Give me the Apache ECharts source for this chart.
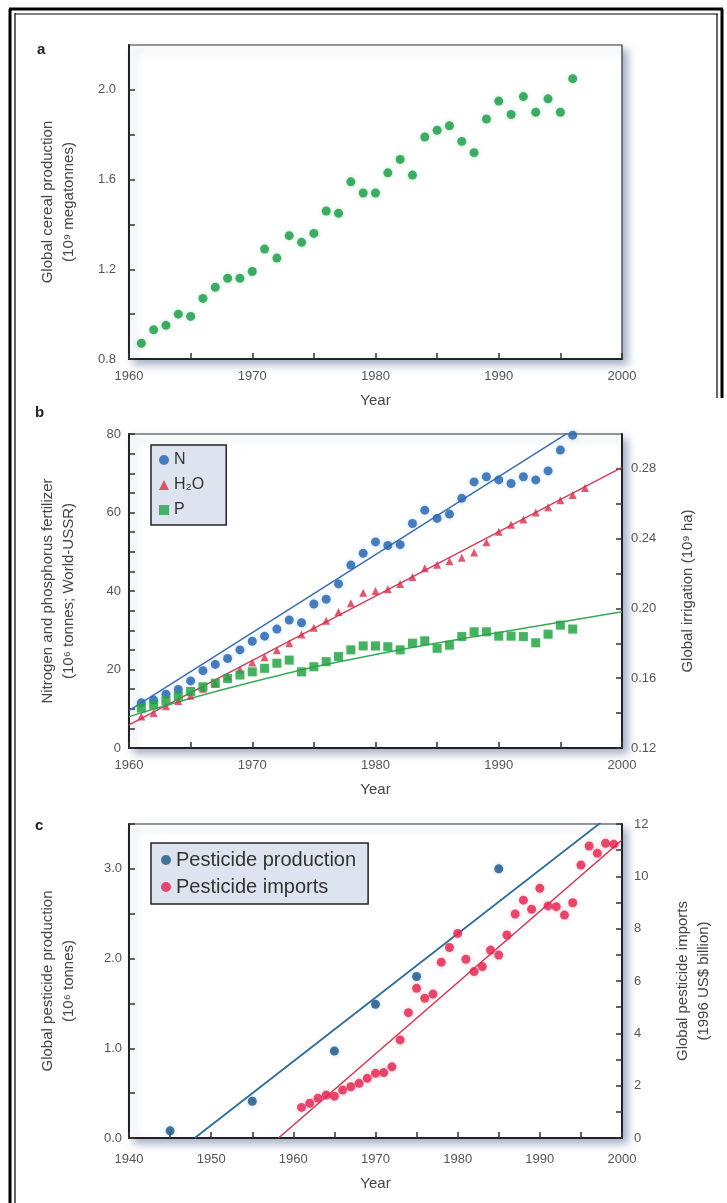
<!DOCTYPE html>
<html>
<head>
<meta charset="utf-8">
<script src="https://cdn.jsdelivr.net/npm/echarts@6/dist/echarts.min.js"></script>
<style>
  html, body { margin: 0; padding: 0; background: #fff; }
  #main { width: 727px; height: 1203px; }
</style>
</head>
<body>
<div id="main"></div>
<script>
// panel a - cereal
var yearsA = [1961,1962,1963,1964,1965,1966,1967,1968,1969,1970,1971,1972,1973,1974,1975,1976,1977,1978,1979,1980,
              1981,1982,1983,1984,1985,1986,1987,1988,1989,1990,1991,1992,1993,1994,1995,1996];
var cereal = [0.87,0.93,0.95,1.00,0.99,1.07,1.12,1.16,1.16,1.19,1.29,1.25,1.35,1.32,1.36,1.46,1.45,1.59,1.54,1.54,
              1.63,1.69,1.62,1.79,1.82,1.84,1.77,1.72,1.87,1.95,1.89,1.97,1.90,1.96,1.90,2.05];

// panel b - fertilizer + irrigation
var yearsB = [1961,1962,1963,1964,1965,1966,1967,1968,1969,1970,1971,1972,1973,1974,1975,1976,1977,1978,1979,1980,
              1981,1982,1983,1984,1985,1986,1987,1988,1989,1990,1991,1992,1993,1994,1995,1996];
var nitrogen = [11.5,12.2,13.7,14.9,17.1,19.7,21.3,22.8,25.0,27.2,28.5,30.3,32.6,31.9,36.7,37.9,41.8,46.6,49.6,52.5,
                51.6,51.8,57.2,60.6,58.5,59.6,63.6,67.8,69.1,68.3,67.4,69.1,68.3,70.6,75.9,79.7];
var phosphorus = [10.2,11.0,12.0,13.2,14.4,15.6,16.5,17.7,18.6,19.4,20.3,21.6,22.4,19.4,20.7,22.0,23.3,25.0,26.0,26.0,
                  25.8,25.0,26.7,27.3,25.4,26.2,28.4,29.6,29.6,28.5,28.5,28.4,26.8,29.0,31.3,30.3];
var yearsH2O = [1961,1962,1963,1964,1965,1966,1967,1968,1969,1970,1971,1972,1973,1974,1975,1976,1977,1978,1979,1980,
                1981,1982,1983,1984,1985,1986,1987,1988,1989,1990,1991,1992,1993,1994,1995,1996,1997];
var irrigation = [0.138,0.140,0.144,0.147,0.150,0.154,0.157,0.161,0.165,0.169,0.172,0.176,0.180,0.185,0.189,0.193,0.198,0.203,0.209,0.210,
                  0.211,0.214,0.218,0.223,0.225,0.227,0.229,0.232,0.238,0.244,0.248,0.251,0.255,0.258,0.262,0.265,0.269];
var nTrend = [[1960, 9.5], [2000, 89]];
var h2oTrend = [[1960, 0.1333], [2000, 0.2809]];
var pTrend = [[1960, 8.0], [1970, 16.8], [1980, 23.8], [1990, 29.4], [2000, 34.7]];

// panel c - pesticides
var yearsProd = [1945,1955,1965,1970,1975,1985];
var production = [0.08,0.41,0.97,1.49,1.80,3.00];
var yearsImp = [1961,1962,1963,1964,1965,1966,1967,1968,1969,1970,1971,1972,1973,1974,1975,1976,1977,1978,1979,1980,
                1981,1982,1983,1984,1985,1986,1987,1988,1989,1990,1991,1992,1993,1994,1995,1996,1997,1998,1999];
var imports = [1.17,1.33,1.52,1.64,1.60,1.83,1.96,2.09,2.28,2.47,2.50,2.72,3.75,4.79,5.72,5.34,5.50,6.72,7.28,7.82,
               6.83,6.36,6.55,7.18,6.99,7.76,8.56,9.09,8.74,9.54,8.87,8.84,8.52,8.99,10.43,11.16,10.88,11.26,11.23];
var prodTrend = [[1948, 0], [2000, 3.70]];
var impTrend = [[1958.2, 0], [2000, 11.39]];

function zip(xs, ys) {
  return xs.map(function (x, i) { return [x, ys[i]]; });
}

var FONT = 'Liberation Sans';
var LABEL = { color: '#555', fontSize: 13, fontFamily: FONT };
var NAME = { color: '#444', fontSize: 15, fontFamily: FONT, lineHeight: 21 };

function gridBox(top) {
  return {
    left: 129, right: 105, top: top, height: 314,
    show: true, backgroundColor: '#fff',
    borderColor: '#333', borderWidth: 1.2,
    shadowColor: 'rgba(90,110,150,0.55)', shadowBlur: 8,
    shadowOffsetX: 5, shadowOffsetY: 5
  };
}

function xYear(grid, min, labelMargin, nameGap) {
  return {
    type: 'value', gridIndex: grid, min: min, max: 2000, interval: 5,
    name: 'Year', nameLocation: 'middle', nameGap: nameGap, nameTextStyle: NAME,
    nameMoveOverlap: false,
    axisLine: { lineStyle: { color: '#222', width: 2 } },
    axisTick: { inside: true, length: 6, lineStyle: { color: '#333', width: 1.5 } },
    axisLabel: Object.assign({ margin: labelMargin, showMinLabel: true, showMaxLabel: true,
      formatter: function (v) { return v % 10 === 0 ? String(v) : ''; } }, LABEL),
    splitLine: { show: false }
  };
}

function yAxis(opt) {
  return Object.assign({
    type: 'value', nameLocation: 'middle', nameTextStyle: NAME, nameRotate: 90,
    nameMoveOverlap: false,
    axisLine: { show: true, lineStyle: { color: '#222', width: 2 } },
    axisTick: { show: true, inside: true, length: 6, lineStyle: { color: '#333', width: 1.5 } },
    splitLine: { show: false }
  }, opt);
}

var chart = echarts.init(document.getElementById('main'), null, { renderer: 'canvas' });

var option = {
  animation: false,
  backgroundColor: '#fff',
  textStyle: { fontFamily: FONT },
  grid: [gridBox(45), gridBox(434), gridBox(824)],
  xAxis: [
    xYear(0, 1960, 11, 31),
    xYear(1, 1960, 11, 31),
    xYear(2, 1940, 15, 35)
  ],
  yAxis: [
    yAxis({
      gridIndex: 0, min: 0.8, max: 2.2, interval: 0.2,
      name: 'Global cereal production\n(10⁹ megatonnes)', nameGap: 50,
      axisLabel: Object.assign({ margin: 13, showMaxLabel: false,
        formatter: function (v) { return Math.round(v * 10) % 4 === 0 ? v.toFixed(1) : ''; } }, LABEL)
    }),
    yAxis({
      gridIndex: 1, min: 0, max: 80, interval: 5,
      name: 'Nitrogen and phosphorus fertilizer\n(10⁶ tonnes; World-USSR)', nameGap: 50,
      axisLabel: Object.assign({ margin: 8,
        formatter: function (v) { return v % 20 === 0 ? String(v) : ''; } }, LABEL)
    }),
    yAxis({
      gridIndex: 1, position: 'right', min: 0.12, max: 0.30, interval: 0.02,
      name: 'Global irrigation (10⁹ ha)', nameGap: 55,
      axisLabel: Object.assign({ margin: 9, showMaxLabel: false,
        formatter: function (v) { return Math.round(v * 100) % 4 === 0 ? v.toFixed(2) : ''; } }, LABEL)
    }),
    yAxis({
      gridIndex: 2, min: 0, max: 3.5, interval: 0.5,
      name: 'Global pesticide production\n(10⁶ tonnes)', nameGap: 50,
      axisLabel: Object.assign({ margin: 7,
        formatter: function (v) { return Math.round(v * 10) % 10 === 0 ? v.toFixed(1) : ''; } }, LABEL)
    }),
    yAxis({
      gridIndex: 2, position: 'right', min: 0, max: 12, interval: 1,
      name: 'Global pesticide imports\n(1996 US$ billion)', nameGap: 50,
      axisLabel: Object.assign({ margin: 12,
        formatter: function (v) { return v % 2 === 0 ? String(v) : ''; } }, LABEL)
    })
  ],
  legend: [
    {
      data: ['N', 'H₂O', 'P'], orient: 'vertical', left: 151, top: 445,
      backgroundColor: '#dde4ef', borderColor: '#222', borderWidth: 1.5,
      padding: [7, 22, 7, 8], itemWidth: 10, itemHeight: 10, itemGap: 9,
      selectedMode: false,
      textStyle: { color: '#333', fontSize: 16, fontFamily: FONT }
    },
    {
      data: ['Pesticide production', 'Pesticide imports'], orient: 'vertical', left: 151, top: 843,
      backgroundColor: '#dde4ef', borderColor: '#222', borderWidth: 1.5,
      padding: [7, 12, 7, 10], itemWidth: 10, itemHeight: 10, itemGap: 7,
      selectedMode: false,
      textStyle: { color: '#333', fontSize: 20, fontFamily: FONT }
    }
  ],
  series: [
    {
      name: 'cereal', type: 'scatter', xAxisIndex: 0, yAxisIndex: 0,
      data: zip(yearsA, cereal), symbolSize: 9,
      itemStyle: { color: '#1c9946', shadowColor: 'rgba(60,200,110,0.5)', shadowBlur: 4 }
    },
    // trend lines panel b
    {
      name: 'N fit', type: 'line', xAxisIndex: 1, yAxisIndex: 1, data: nTrend,
      showSymbol: false, symbol: 'none', lineStyle: { color: '#3b6eb0', width: 1.5 }, z: 1
    },
    {
      name: 'H2O fit', type: 'line', xAxisIndex: 1, yAxisIndex: 2, data: h2oTrend,
      showSymbol: false, symbol: 'none', lineStyle: { color: '#d0405a', width: 1.5 }, z: 1
    },
    {
      name: 'P fit', type: 'line', xAxisIndex: 1, yAxisIndex: 1, data: pTrend, smooth: true,
      showSymbol: false, symbol: 'none', lineStyle: { color: '#3aa858', width: 1.5 }, z: 1
    },
    {
      name: 'N', type: 'scatter', xAxisIndex: 1, yAxisIndex: 1, symbol: 'circle',
      data: zip(yearsB, nitrogen), symbolSize: 9,
      itemStyle: { color: '#2660ab', shadowColor: 'rgba(80,170,240,0.5)', shadowBlur: 4 }
    },
    {
      name: 'H₂O', type: 'scatter', xAxisIndex: 1, yAxisIndex: 2, symbol: 'triangle',
      data: zip(yearsH2O, irrigation), symbolSize: 8,
      itemStyle: { color: '#d2314f' }
    },
    {
      name: 'P', type: 'scatter', xAxisIndex: 1, yAxisIndex: 1, symbol: 'rect',
      data: zip(yearsB, phosphorus), symbolSize: 9,
      itemStyle: { color: '#25a044', shadowColor: 'rgba(60,200,100,0.4)', shadowBlur: 3 }
    },
    // panel c
    {
      name: 'prod fit', type: 'line', xAxisIndex: 2, yAxisIndex: 3, data: prodTrend,
      showSymbol: false, symbol: 'none', lineStyle: { color: '#2f6b96', width: 1.8 }, z: 1
    },
    {
      name: 'imp fit', type: 'line', xAxisIndex: 2, yAxisIndex: 4, data: impTrend,
      showSymbol: false, symbol: 'none', lineStyle: { color: '#c9374f', width: 1.5 }, z: 1
    },
    {
      name: 'Pesticide production', type: 'scatter', xAxisIndex: 2, yAxisIndex: 3, symbol: 'circle',
      data: zip(yearsProd, production), symbolSize: 9,
      itemStyle: { color: '#1e5280', shadowColor: 'rgba(60,160,230,0.5)', shadowBlur: 4 }
    },
    {
      name: 'Pesticide imports', type: 'scatter', xAxisIndex: 2, yAxisIndex: 4, symbol: 'circle',
      data: zip(yearsImp, imports), symbolSize: 9,
      itemStyle: { color: '#e0234f', shadowColor: 'rgba(255,80,120,0.45)', shadowBlur: 4 }
    }
  ],
  graphic: [
    // outer frame
    { type: 'line', shape: { x1: 10, y1: 9, x2: 10, y2: 1203 }, style: { stroke: '#000', lineWidth: 3 } },
    { type: 'line', shape: { x1: 15, y1: 13, x2: 15, y2: 1203 }, style: { stroke: '#000', lineWidth: 1.2 } },
    { type: 'line', shape: { x1: 9, y1: 9, x2: 723, y2: 9 }, style: { stroke: '#000', lineWidth: 3 } },
    { type: 'line', shape: { x1: 15, y1: 14, x2: 718, y2: 14 }, style: { stroke: '#000', lineWidth: 1.2 } },
    { type: 'line', shape: { x1: 722, y1: 9, x2: 722, y2: 398 }, style: { stroke: '#000', lineWidth: 3 } },
    { type: 'line', shape: { x1: 717, y1: 14, x2: 717, y2: 398 }, style: { stroke: '#000', lineWidth: 1.2 } },
    // panel letters
    { type: 'text', left: 37, top: 42, style: { text: 'a', font: 'bold 15px "Liberation Sans"', fill: '#222' } },
    { type: 'text', left: 35, top: 405, style: { text: 'b', font: 'bold 15px "Liberation Sans"', fill: '#222' } },
    { type: 'text', left: 35, top: 818, style: { text: 'c', font: 'bold 15px "Liberation Sans"', fill: '#222' } }
  ]
};

chart.setOption(option);
</script>
</body>
</html>
